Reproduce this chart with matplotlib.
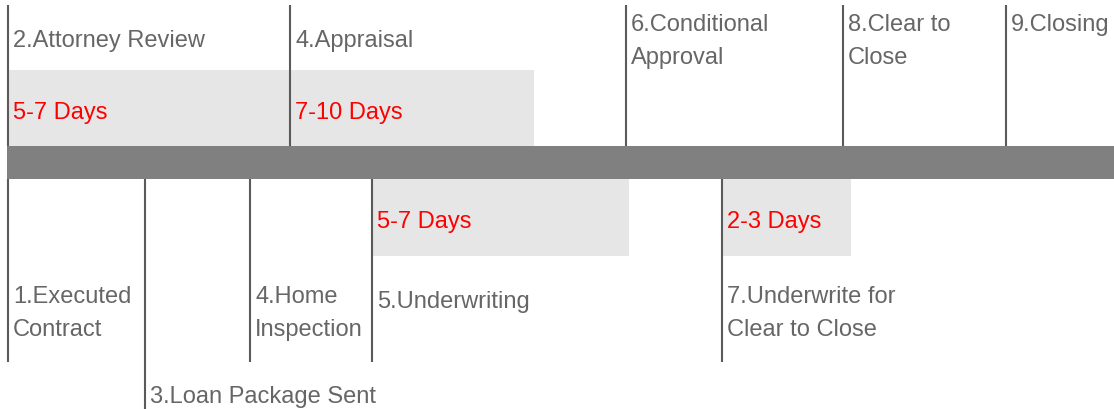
import matplotlib.pyplot as plt

# milestones above the timeline bar
top_labels = ["2.Attorney Review", "4.Appraisal", "6.Conditional\nApproval", "8.Clear to\nClose", "9.Closing"]
top_x = [8, 290, 626, 843, 1006]
top_text_y = [47, 47, 31, 31, 31]

# milestones below the timeline bar
bottom_labels = ["1.Executed\nContract", "3.Loan Package Sent", "4.Home\nInspection", "5.Underwriting",
                 "7.Underwrite for\nClear to Close"]
bottom_x = [8, 145, 250, 372, 722]
bottom_end = [363, 410, 363, 363, 363]
bottom_text_y = [303, 403, 303, 308, 303]

# duration boxes
dur_labels = ["5-7 Days", "7-10 Days", "5-7 Days", "2-3 Days"]
dur_start = [8, 290, 372, 722]
dur_end = [290, 534, 629, 851]
dur_side = ["top", "top", "bottom", "bottom"]

text_gray = "#666666"
line_gray = "#5a5a5a"
fs = 17
line_gap = 33

fig = plt.figure(figsize=(11.14, 4.1), dpi=100)
ax = fig.add_axes([0, 0, 1, 1])
ax.set_xlim(0, 1114)
ax.set_ylim(410, 0)
ax.axis("off")

# duration boxes
for lab, x0, x1, side in zip(dur_labels, dur_start, dur_end, dur_side):
    if side == "top":
        y0, y1, ty = 71, 147, 119
    else:
        y0, y1, ty = 180, 257, 228
    ax.barh((y0 + y1) / 2, x1 - x0, left=x0, height=y1 - y0, color="#e6e6e6", zorder=1)
    ax.text(x0 + 5, ty, lab, color="red", fontsize=fs, family="Liberation Sans", va="baseline", zorder=3)

# main timeline bar
ax.barh(163.5, 1114 - 7, left=7, height=33, color="#808080", zorder=2)

# top milestones
for lab, x, ty in zip(top_labels, top_x, top_text_y):
    ax.vlines(x, 6, 147, color=line_gray, linewidth=1.5, zorder=3)
    for i, part in enumerate(lab.split("\n")):
        ax.text(x + 5, ty + i * line_gap, part, color=text_gray, fontsize=fs,
                family="Liberation Sans", va="baseline", zorder=3)

# bottom milestones
for lab, x, y_end, ty in zip(bottom_labels, bottom_x, bottom_end, bottom_text_y):
    ax.vlines(x, 180, y_end, color=line_gray, linewidth=1.5, zorder=3)
    for i, part in enumerate(lab.split("\n")):
        ax.text(x + 5, ty + i * line_gap, part, color=text_gray, fontsize=fs,
                family="Liberation Sans", va="baseline", zorder=3)

fig.savefig("out.png", dpi=100)
